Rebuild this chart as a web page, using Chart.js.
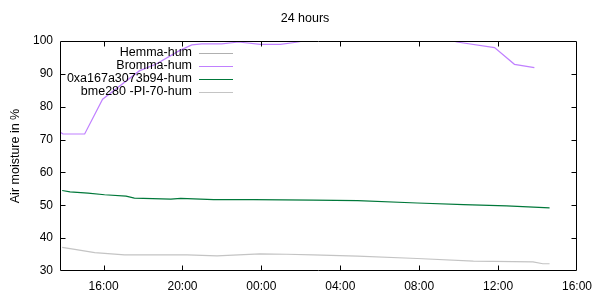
<!DOCTYPE html>
<html>
<head>
<meta charset="utf-8">
<script src="https://cdn.jsdelivr.net/npm/chart.js@4/dist/chart.umd.min.js"></script>
<style>
html,body{margin:0;padding:0;background:#fff;}
#wrap{width:600px;height:300px;position:relative;}
</style>
</head>
<body>
<div id="wrap"><canvas id="c" width="600" height="300"></canvas></div>
<script>
const titleText = "24 hours";
const yTitle = "Air moisture in %";
const seriesLabels = ["Hemma-hum", "Bromma-hum", "0xa167a3073b94-hum", "bme280 -PI-70-hum"];
const seriesColors = ["#b0b0b0", "#c080ff", "#00783a", "#c4c4c4"];

// hours since midnight of day 1 (24 = 00:00 next day)
const hemmaHours = [];
const hemmaHum = [];

const brommaHours = [13.79, 13.94, 15.04, 15.95, 17.81, 18.67, 19.82, 20.47, 20.98, 21.99, 22.84, 23.95, 24.96, 25.86, 26.8, 30.0, 33.4, 33.91, 35.82, 36.83, 37.84];
const brommaHum   = [72.3, 71.7, 71.7, 82.3, 90.9, 93.0, 97.0, 98.8, 99.1, 99.1, 99.7, 99.0, 99.0, 99.7, 100.8, 101.5, 100.6, 99.7, 98.0, 92.9, 91.9];

const xaHours = [13.90, 14.30, 15.21, 16.05, 17.14, 17.56, 19.41, 19.91, 21.58, 23.60, 26.62, 28.88, 31.90, 34.25, 36.43, 38.61];
const xaHum   = [54.5, 54.1, 53.7, 53.2, 52.8, 52.2, 51.9, 52.1, 51.7, 51.7, 51.6, 51.4, 50.7, 50.2, 49.8, 49.2];

const bmeHours = [13.90, 14.54, 15.55, 17.06, 18.57, 20.24, 21.75, 23.93, 25.27, 26.62, 28.88, 31.90, 34.75, 37.77, 38.27, 38.61];
const bmeHum   = [37.2, 36.6, 35.6, 34.9, 34.9, 34.9, 34.6, 35.2, 35.1, 34.9, 34.5, 33.8, 33.0, 32.8, 32.2, 32.2];

const xTickHours = [16, 20, 24, 28, 32, 36, 40];
const yTickValues = [30, 40, 50, 60, 70, 80, 90, 100];
const xMin = 13.79, xMax = 40, yMin = 30, yMax = 100;

const FONT = "'Liberation Sans', Arial, sans-serif";

function pts(xs, ys){ return xs.map((x,i)=>({x:x, y:ys[i]})); }
function fmtHour(h){ const v = ((h % 24) + 24) % 24; return String(v).padStart(2,'0') + ":00"; }

const allHours = [hemmaHours, brommaHours, xaHours, bmeHours];
const allHum = [hemmaHum, brommaHum, xaHum, bmeHum];

const datasets = seriesLabels.map((lab, i) => ({
  label: lab,
  data: pts(allHours[i], allHum[i]),
  borderColor: seriesColors[i],
  backgroundColor: seriesColors[i],
  borderWidth: 1.2,
  pointRadius: 0,
  fill: false,
  tension: 0
}));

const framePlugin = {
  id: 'frame',
  afterDatasetsDraw(chart){
    const ctx = chart.ctx, a = chart.chartArea;
    const xs = chart.scales.x, ys = chart.scales.y;
    ctx.save();
    ctx.strokeStyle = '#000';
    ctx.lineWidth = 1;
    ctx.beginPath();
    const L = Math.round(a.left)+0.5, R = Math.round(a.right)-0.5, T = Math.round(a.top)+0.5, B = Math.round(a.bottom)-0.5;
    ctx.rect(L, T, R-L, B-T);
    const tl = 5;
    xs.ticks.forEach(t => {
      const px = Math.round(xs.getPixelForValue(t.value))+0.5;
      if (px < L+1 || px > R-1) return;
      ctx.moveTo(px, B); ctx.lineTo(px, B-tl);
      ctx.moveTo(px, T); ctx.lineTo(px, T+tl);
    });
    ys.ticks.forEach(t => {
      const py = Math.round(ys.getPixelForValue(t.value))+0.5;
      if (py < T+1 || py > B-1) return;
      ctx.moveTo(L, py); ctx.lineTo(L+tl, py);
      ctx.moveTo(R, py); ctx.lineTo(R-tl, py);
    });
    ctx.stroke();

    // legend (gnuplot style: right-aligned text, sample line to the right)
    ctx.font = "12.5px " + FONT;
    ctx.textAlign = 'right';
    ctx.textBaseline = 'middle';
    chart.data.datasets.forEach((ds, i) => {
      const y = 53 + i*13;
      ctx.fillStyle = '#000';
      ctx.fillText(ds.label, 192, y);
      ctx.strokeStyle = ds.borderColor;
      ctx.lineWidth = 1.2;
      ctx.beginPath();
      ctx.moveTo(199, y+0.5); ctx.lineTo(233, y+0.5);
      ctx.stroke();
    });

    // title
    ctx.fillStyle = '#000';
    ctx.font = "12.5px " + FONT;
    ctx.textAlign = 'center';
    ctx.fillText(titleText, 305, 19);
    ctx.restore();
  }
};

new Chart(document.getElementById('c'), {
  type: 'line',
  data: { datasets: datasets },
  options: {
    responsive: false,
    animation: false,
    layout: { padding: { left: 0, right: 20, top: 41, bottom: 0 } },
    plugins: { legend: { display: false }, title: { display: false }, tooltip: { enabled: false } },
    scales: {
      x: {
        type: 'linear', min: xMin, max: xMax,
        afterBuildTicks: s => { s.ticks = xTickHours.map(v => ({value: v})); },
        afterFit: s => { s.height = 29; },
        grid: { display: false, drawTicks: false },
        border: { display: false },
        ticks: { color: '#000', font: { size: 12, family: FONT }, padding: 8, maxRotation: 0, autoSkip: false,
                 callback: v => fmtHour(v) }
      },
      y: {
        type: 'linear', min: yMin, max: yMax,
        afterBuildTicks: s => { s.ticks = yTickValues.map(v => ({value: v})); },
        afterFit: s => { s.width = 60; },
        grid: { display: false, drawTicks: false },
        border: { display: false },
        ticks: { color: '#000', font: { size: 12, family: FONT }, padding: 7 },
        title: { display: true, text: yTitle, color: '#000', font: { size: 12.5, family: FONT }, padding: { top: 8, bottom: 0 } }
      }
    }
  },
  plugins: [framePlugin]
});
</script>
</body>
</html>
